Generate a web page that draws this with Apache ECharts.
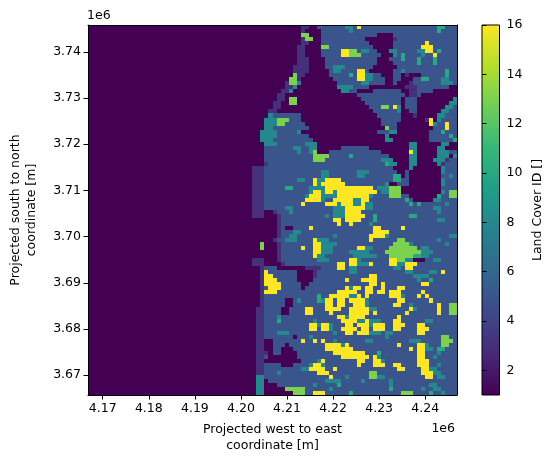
<!DOCTYPE html>
<html><head><meta charset="utf-8">
<style>html,body{margin:0;padding:0;background:#fff}#c{width:556px;height:464px}</style>
<script src="https://cdn.jsdelivr.net/npm/echarts@6/dist/echarts.min.js"></script>
</head><body><div id="c"></div>
<script>
// Land cover raster. Each row (north to south) lists runs "id@endColumn",
// ids in base 17 (a=10, d=13, g=16); columns are counted from the first coastal column.
var landCoverRows = [
"1@12 3@14 1@16 5@23 8@25 5@26 g@27 5@46 a@48 5@51",
"1@12 3@13 1@17 5@24 8@25 5@46 a@47 5@51",
"1@12 d@14 1@17 5@31 1@35 5@51",
"1@12 3@13 d@15 1@17 5@28 1@35 3@36 5@51",
"1@12 3@14 1@17 5@29 1@35 5@43 g@44 5@51",
"1@11 3@13 1@17 d@19 5@30 1@35 5@42 g@45 5@51",
"1@11 3@13 1@17 5@22 g@24 d@26 5@27 8@29 5@31 1@34 8@36 5@41 8@43 g@45 5@46 a@47 5@51",
"1@11 3@13 1@17 5@22 g@24 d@27 5@32 1@35 8@36 5@37 a@38 5@42 8@43 5@45 g@46 5@51",
"1@11 3@14 1@18 5@31 1@34 5@37 a@38 5@41 a@42 5@45 a@46 5@51",
"1@11 3@14 1@18 5@31 1@35 5@41 a@42 5@45 a@46 5@51",
"1@10 3@14 1@18 5@20 8@23 5@30 1@36 5@51",
"1@10 3@14 1@19 5@20 8@22 5@26 g@28 5@29 1@35 5@37 8@38 5@48 a@49 5@51",
"1@10 d@11 3@13 1@19 5@24 a@25 5@26 g@28 8@30 5@32 1@35 5@37 1@38 3@39 1@42 5@48 a@49 5@51",
"1@9 d@11 3@12 1@20 5@26 g@28 8@30 5@33 1@35 5@37 1@40 5@42 a@44 5@47 8@49 5@51",
"1@8 3@9 d@11 8@12 1@21 5@27 8@29 5@33 1@35 5@36 1@39 3@40 5@47 8@50 5@51",
"1@8 3@10 8@11 1@21 8@25 5@29 1@38 3@41 5@49 1@51",
"1@7 3@9 8@10 1@22 8@24 5@26 1@30 5@37 1@39 3@41 5@45 1@51",
"1@6 3@8 1@26 5@38 1@39 3@41 5@42 1@51",
"1@6 3@8 1@9 d@11 1@27 5@37 1@38 5@41 1@50 8@51",
"1@5 3@7 1@9 d@11 1@28 5@37 1@38 5@41 1@49 8@51",
"1@5 3@7 1@29 5@32 d@34 5@35 g@36 8@37 1@38 5@41 1@48 8@50 5@51",
"1@4 3@6 1@30 5@36 8@37 1@39 5@41 1@47 8@49 5@51",
"1@4 8@5 5@12 1@31 5@37 1@40 3@41 1@46 8@48 5@51",
"1@3 8@6 d@9 5@12 1@32 5@37 1@43 3@44 g@45 1@46 8@47 5@51",
"1@3 8@6 d@8 5@13 1@32 5@36 1@44 g@45 8@46 5@48 g@49 5@51",
"1@3 8@5 5@14 1@33 d@34 5@36 1@45 5@48 g@49 5@51",
"1@2 8@6 5@11 8@12 1@31 5@34 8@36 1@44 5@47 a@48 5@51",
"1@2 8@6 5@14 1@33 8@34 1@44 5@49 a@50 5@51",
"1@2 8@5 5@15 1@33 8@35 1@44 5@50 a@51",
"1@3 8@6 5@13 8@16 1@39 8@41 1@47 8@49 1@51",
"1@3 5@10 8@12 5@14 8@16 1@22 5@29 1@39 8@41 1@46 8@48 1@51",
"1@3 5@11 8@12 5@14 8@15 d@16 1@19 5@32 1@39 g@40 8@41 1@46 8@49 5@51",
"1@3 5@15 d@19 5@24 a@25 5@34 1@39 8@41 1@46 8@49 1@50 8@51",
"1@3 5@15 d@18 5@32 8@35 1@39 8@41 1@45 8@48 3@49 5@51",
"1@3 3@4 5@33 a@34 8@36 1@39 8@41 1@46 8@47 3@48 5@51",
"3@3 5@35 1@39 8@40 1@47 8@48 5@51",
"3@3 5@17 8@19 5@26 8@29 5@36 1@38 5@39 1@47 8@48 5@51",
"3@3 5@17 8@19 5@26 8@28 5@35 a@37 1@38 5@39 1@47 5@49 8@50 5@51",
"3@3 5@11 8@13 5@15 g@16 8@18 g@22 5@35 a@37 5@39 1@47 8@48 5@51",
"3@3 5@15 g@16 8@17 g@23 5@33 8@34 1@36 5@39 1@47 8@48 5@51",
"3@3 5@8 a@10 5@14 8@15 8@18 g@30 5@31 8@34 d@37 1@47 5@51",
"3@3 5@14 8@15 g@17 8@18 g@20 8@21 g@31 5@32 8@34 d@37 1@47 8@48 5@49 d@51",
"3@3 5@13 8@14 g@17 8@21 g@29 8@30 5@34 d@37 5@39 1@46 a@47 5@49 d@51",
"3@3 5@13 g@17 8@18 5@20 g@25 8@27 g@29 5@38 a@39 5@40 1@45 8@47 5@51",
"3@3 5@12 g@13 5@18 g@21 8@22 g@25 8@27 g@28 8@30 5@39 a@40 5@41 a@42 5@48 8@49 5@51",
"3@3 5@8 8@10 5@20 8@23 g@28 8@30 5@45 8@47 5@51",
"3@3 1@5 3@6 5@9 8@10 5@20 8@23 g@27 5@46 8@47 5@51",
"3@3 1@6 3@7 5@18 8@19 5@20 8@23 g@28 5@30 a@31 5@39 a@41 5@51",
"1@6 3@7 5@20 g@22 5@23 g@27 5@30 a@31 5@46 8@48 5@51",
"1@6 3@7 5@21 g@22 5@24 g@25 5@29 8@30 5@51",
"1@6 3@7 5@8 1@10 5@14 g@15 5@30 g@32 5@37 g@38 5@51",
"1@6 3@7 5@10 8@12 5@30 g@34 5@51",
"1@6 3@7 5@9 8@11 5@20 8@21 5@29 g@33 8@34 5@49 8@51",
"1@5 3@6 5@8 8@11 5@15 g@16 8@19 5@29 g@30 5@36 d@38 5@46 8@47 5@51",
"1@2 d@3 1@6 3@7 5@15 g@17 8@21 5@35 d@39 8@40 5@48 8@49 5@51",
"1@2 d@3 1@6 3@7 5@12 g@13 5@15 g@17 8@20 5@26 g@28 8@30 5@34 d@41 5@42 8@44 5@51",
"1@6 3@7 5@15 g@17 8@20 5@24 8@29 5@33 d@42 8@45 5@51",
"1@6 3@7 5@15 g@16 8@18 5@25 8@31 5@34 d@40 a@42 8@44 5@51",
"3@3 1@6 3@7 5@16 8@19 5@24 g@26 8@27 5@34 g@36 d@38 8@40 1@43 5@45 8@47 5@51",
"3@3 1@7 3@8 5@21 g@23 5@24 g@26 8@29 g@30 5@34 g@36 8@38 g@41 5@51",
"1@2 3@3 5@6 1@13 3@17 5@21 g@23 5@24 8@26 5@35 8@37 5@38 g@40 5@51",
"1@2 3@3 g@4 5@11 1@15 3@16 5@24 8@26 5@38 8@40 5@44 8@46 5@47 g@48 5@51",
"1@2 3@3 g@5 5@11 1@15 3@16 5@29 g@31 5@40 8@44 5@51",
"1@2 3@3 g@6 5@11 1@15 5@23 g@24 5@27 g@31 5@41 8@42 5@44 a@45 5@51",
"1@2 3@3 g@7 5@12 1@14 5@29 g@31 5@32 g@33 5@42 g@44 5@51",
"1@2 3@3 5@4 g@7 5@12 1@13 5@23 g@24 8@25 g@27 5@28 g@30 5@32 g@33 5@36 g@38 5@51",
"1@2 3@3 g@6 5@21 g@26 5@28 g@30 5@31 g@33 5@34 g@37 5@42 g@43 5@51",
"1@2 3@3 5@16 a@17 5@19 g@24 8@26 g@27 5@28 g@29 5@34 g@37 8@38 5@41 g@42 5@43 g@44 5@51",
"1@2 3@3 5@8 1@10 5@11 8@12 5@16 a@17 8@18 g@20 5@21 g@23 5@24 g@28 8@29 5@36 g@38 5@44 g@45 5@51",
"1@2 3@3 5@8 1@10 5@18 g@20 5@21 g@23 5@25 g@28 8@29 5@35 g@37 5@39 8@40 5@46 g@47 5@49 d@51",
"1@1 3@3 5@7 1@9 5@13 g@15 5@18 g@22 5@24 g@29 8@31 5@39 g@40 8@41 5@46 g@47 5@49 d@51",
"1@1 3@3 5@7 1@9 5@13 g@15 5@19 g@20 5@24 g@29 5@30 g@31 5@38 g@39 5@46 g@47 5@49 d@51",
"1@1 3@3 5@6 8@7 5@21 g@23 8@24 g@28 5@36 g@37 5@51",
"1@1 3@3 5@6 a@7 5@15 8@16 5@22 g@26 8@28 g@29 8@32 5@35 g@37 5@43 8@45 5@51",
"1@1 3@3 5@14 g@16 8@17 g@19 8@20 5@23 g@25 5@26 g@29 8@30 g@33 5@35 g@38 5@41 g@43 5@51",
"1@1 3@3 5@14 g@16 5@17 g@19 8@20 5@22 g@26 5@27 g@29 5@30 g@33 5@35 g@37 5@41 g@44 5@51",
"1@1 3@3 5@6 8@9 5@20 8@21 5@23 g@25 5@26 g@29 8@32 5@33 8@35 5@41 g@43 5@51",
"1@1 3@3 5@10 1@11 5@14 8@15 5@33 8@34 5@47 d@49 5@51",
"1@1 3@3 1@5 5@12 g@13 5@15 g@16 5@17 g@18 5@20 8@21 5@28 8@30 5@39 8@42 5@47 d@50 5@51",
"1@1 3@3 1@5 5@8 1@9 5@18 g@22 8@23 g@24 5@36 g@37 5@41 g@43 8@44 5@47 d@49 5@51",
"1@1 3@3 1@5 5@7 1@10 5@18 g@25 5@39 g@40 5@41 g@43 8@45 5@46 a@48 5@51",
"1@1 3@4 1@5 5@7 1@11 5@20 g@28 5@31 a@32 5@41 g@43 5@46 8@47 5@51",
"1@1 3@3 5@4 1@11 5@22 g@29 5@30 g@31 8@32 5@41 g@43 5@45 8@46 5@51",
"1@1 3@3 1@12 5@16 8@17 g@18 5@26 g@28 5@30 g@32 8@33 5@41 g@44 5@51",
"1@1 3@3 5@7 1@10 5@14 8@15 g@17 8@18 5@26 g@27 5@30 g@33 5@35 g@37 5@41 g@44 5@46 8@47 5@51",
"1@1 3@3 5@12 8@14 g@18 5@20 g@21 5@36 g@38 5@42 g@44 8@46 5@51",
"1@1 3@3 5@6 8@7 5@16 g@19 5@29 d@31 5@42 g@45 8@47 5@51",
"1@1 8@3 5@19 g@20 5@23 8@24 5@29 d@31 8@33 5@43 g@45 5@46 8@48 5@51",
"1@1 8@3 1@4 5@18 8@22 5@27 8@28 5@34 8@35 5@51",
"1@1 8@3 1@6 5@15 8@16 5@21 a@22 5@34 8@35 5@44 8@46 5@51",
"1@1 8@3 1@8 d@13 5@19 8@20 5@34 a@35 5@42 8@43 5@45 8@47 5@51",
"1@1 8@3 1@10 d@13 5@15 g@18 5@24 a@25 5@37 d@40 5@44 a@45 5@47 8@48 5@51"
];
var gridColumns = 92;
var coastColumn = 41;
var eastMin = 4166800, eastMax = 4246900;
var northMin = 3665700, northMax = 3745800;
var eastTicks = [4170000,4180000,4190000,4200000,4210000,4220000,4230000,4240000];
var northTicks = [3670000,3680000,3690000,3700000,3710000,3720000,3730000,3740000];
var idTicks = [2,4,6,8,10,12,14,16];
var idMin = 1, idMax = 16;
var viridis = ['#440154','#482878','#3e4989','#31688e','#26828e','#1f9e89','#35b779','#6ece58','#b5de2b','#fde725'];
var font = 'DejaVu Sans';
var fs = 12.5;

var stepE = (eastMax-eastMin)/gridColumns, stepN = (northMax-northMin)/landCoverRows.length;
var cells = [];
landCoverRows.forEach(function(row,r){
  var top = northMax-r*stepN, bottom = top-stepN, col = 0;
  cells.push([eastMin, eastMin+coastColumn*stepE, top, bottom, 1]);
  row.split(' ').forEach(function(tok){
    var p = tok.split('@'), end = +p[1];
    if(end<=col) return;
    cells.push([eastMin+(coastColumn+col)*stepE, eastMin+(coastColumn+end)*stepE, top, bottom, parseInt(p[0],17)]);
    col = end;
  });
  if(col<gridColumns-coastColumn) cells.push([eastMin+(coastColumn+col)*stepE, eastMax, top, bottom, 5]);
});

function rasterItem(params,api){
  var a = api.coord([api.value(0),api.value(2)]), b = api.coord([api.value(1),api.value(3)]);
  var x=Math.round(a[0]), y=Math.round(a[1]);
  return {type:'rect',shape:{x:x,y:y,width:Math.round(b[0])-x,height:Math.round(b[1])-y},
    style:{fill:api.visual('color')},silent:true};
}
function barItem(params,api){
  var a = api.coord([0,api.value(1)]), b = api.coord([1,api.value(0)]);
  var stops = viridis.map(function(c,i){return {offset:i/(viridis.length-1),color:c};});
  return {type:'rect',shape:{x:a[0],y:a[1],width:b[0]-a[0],height:b[1]-a[1]},
    style:{fill:new echarts.graphic.LinearGradient(0,1,0,0,stops),stroke:'#000',lineWidth:1},silent:true};
}
var txt = {fontFamily:font,fontSize:fs,color:'#000'};
function mainAxis(min,max,ticks,pos,name,gap){
  return {type:'value',min:min,max:max,position:pos,z:5,scale:true,splitLine:{show:false},
    name:name,nameLocation:'middle',nameGap:gap,nameTextStyle:{fontFamily:font,fontSize:fs,color:'#000',lineHeight:16},
    axisLine:{show:true,onZero:false,lineStyle:{color:'#000',width:1}},
    axisTick:{show:true,length:4.5,lineStyle:{color:'#000',width:1},customValues:ticks},
    axisLabel:Object.assign({show:true,margin:7,showMinLabel:true,showMaxLabel:true,customValues:ticks,formatter:function(v){return (v/1e6).toFixed(2);}},txt)};
}
function frameAxis(min,max,pos){
  return {type:'value',min:min,max:max,position:pos,z:5,scale:true,splitLine:{show:false},
    axisLine:{show:true,onZero:false,lineStyle:{color:'#000',width:1}},axisTick:{show:false},axisLabel:{show:false}};
}
var chart = echarts.init(document.getElementById('c'),null,{renderer:'canvas'});
chart.setOption({
  animation:false,backgroundColor:'#fff',
  grid:[{left:86.5,top:25,width:370.5,height:370},{left:482,top:25,width:17.5,height:370}],
  xAxis:[
    mainAxis(eastMin,eastMax,eastTicks,'bottom','Projected west to east\ncoordinate [m]',27),
    frameAxis(eastMin,eastMax,'top'),
    {type:'value',gridIndex:1,min:0,max:1,show:false}
  ],
  yAxis:[
    mainAxis(northMin,northMax,northTicks,'left','Projected south to north\ncoordinate [m]',48),
    frameAxis(northMin,northMax,'right'),
    {type:'value',gridIndex:1,min:idMin,max:idMax,position:'right',z:5,splitLine:{show:false},
     name:'Land Cover ID []',nameLocation:'middle',nameRotate:90,nameGap:32,nameTextStyle:{fontFamily:font,fontSize:fs,color:'#000'},
     axisLine:{show:false},
     axisTick:{show:true,length:4.5,lineStyle:{color:'#000',width:1},customValues:idTicks},
     axisLabel:Object.assign({show:true,margin:7,customValues:idTicks,formatter:function(v){return String(v);}},txt)}
  ],
  visualMap:{show:false,type:'continuous',min:idMin,max:idMax,dimension:4,seriesIndex:0,inRange:{color:viridis}},
  series:[
    {type:'custom',xAxisIndex:0,yAxisIndex:0,renderItem:rasterItem,data:cells,encode:{x:[0,1],y:[2,3]},progressive:0,silent:true},
    {type:'custom',xAxisIndex:2,yAxisIndex:2,renderItem:barItem,data:[[idMin,idMax]],encode:{y:[0,1]},silent:true}
  ],
  graphic:[
    {type:'text',left:87,top:9,style:{text:'1e6',fontFamily:font,fontSize:fs,fill:'#000'}},
    {type:'text',right:101,top:422,style:{text:'1e6',fontFamily:font,fontSize:fs,fill:'#000'}}
  ]
});
</script></body></html>
